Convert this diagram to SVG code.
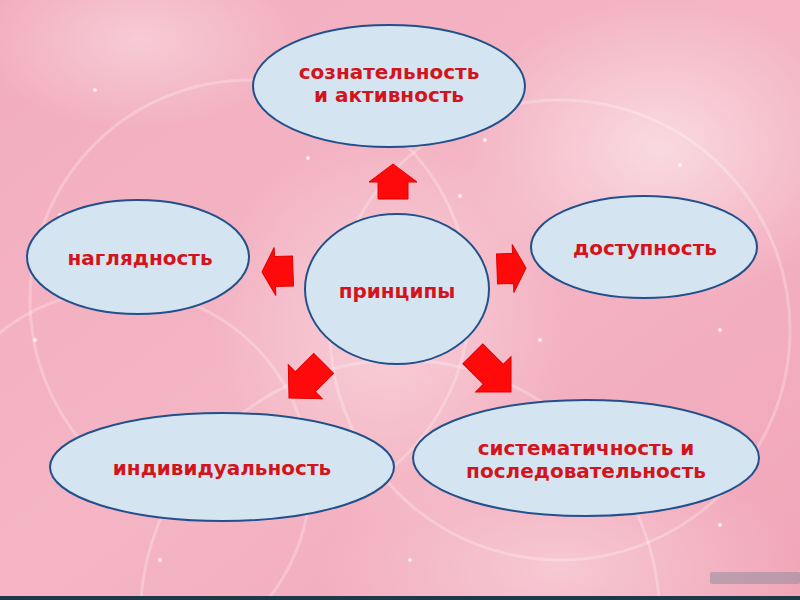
<svg xmlns="http://www.w3.org/2000/svg" width="800" height="600" viewBox="0 0 800 600">
<defs>
<linearGradient id="bg" x1="0" y1="0" x2="1" y2="1">
<stop offset="0" stop-color="#f2adbe"/>
<stop offset="0.5" stop-color="#f4b5c4"/>
<stop offset="1" stop-color="#f1a6b8"/>
</linearGradient>
<radialGradient id="glow1" cx="0.5" cy="0.5" r="0.5">
<stop offset="0" stop-color="#ffffff" stop-opacity="0.5"/>
<stop offset="1" stop-color="#ffffff" stop-opacity="0"/>
</radialGradient>
<radialGradient id="glow2" cx="0.5" cy="0.5" r="0.5">
<stop offset="0" stop-color="#ffffff" stop-opacity="0.35"/>
<stop offset="1" stop-color="#ffffff" stop-opacity="0"/>
</radialGradient>
<style>
.node ellipse{fill:#d4e4f1;stroke:#22508a;stroke-width:2}
.node text{font-family:"DejaVu Sans","Liberation Sans",sans-serif;font-weight:bold;font-size:20px;fill:#d4141c;text-anchor:middle}
.arrow{fill:#ff0a0a;stroke:#e00000;stroke-width:1}
.arc{fill:none;stroke:#ffffff;stroke-opacity:0.25;stroke-width:3}
.dot{fill:#ffffff;opacity:0.7}
</style>
</defs>
<g id="background">
<rect width="800" height="600" fill="url(#bg)"/>
<ellipse cx="660" cy="150" rx="200" ry="150" fill="url(#glow1)"/>
<ellipse cx="560" cy="570" rx="240" ry="120" fill="url(#glow2)"/>
<ellipse cx="390" cy="330" rx="180" ry="200" fill="url(#glow2)"/>
<ellipse cx="140" cy="40" rx="160" ry="90" fill="url(#glow2)"/>
<circle class="arc" cx="250" cy="300" r="220"/>
<circle class="arc" cx="560" cy="330" r="230"/>
<circle class="arc" cx="400" cy="620" r="260"/>
<circle class="arc" cx="120" cy="480" r="190"/>
<circle class="dot" cx="60" cy="215" r="2"/>
<circle class="dot" cx="35" cy="340" r="2"/>
<circle class="dot" cx="308" cy="158" r="2"/>
<circle class="dot" cx="485" cy="140" r="2"/>
<circle class="dot" cx="460" cy="196" r="2"/>
<circle class="dot" cx="540" cy="340" r="2"/>
<circle class="dot" cx="562" cy="512" r="2"/>
<circle class="dot" cx="720" cy="525" r="2"/>
<circle class="dot" cx="720" cy="330" r="2"/>
<circle class="dot" cx="680" cy="165" r="2"/>
<circle class="dot" cx="160" cy="560" r="2"/>
<circle class="dot" cx="410" cy="560" r="2"/>
<circle class="dot" cx="95" cy="90" r="2"/>
<rect x="710" y="572" width="90" height="12" rx="2" fill="#8a8a9a" fill-opacity="0.5"/>
<rect x="0" y="596" width="800" height="4" fill="#1e3946"/>
</g>
<g id="connectors">
<path class="arrow" transform="translate(393,164)" d="M0,0 L24,18 L15,18 L15,35 L-15,35 L-15,18 L-24,18 Z"/>
<path class="arrow" transform="translate(262,272) rotate(-92)" d="M0,0 L24,13 L15,13 L15,31 L-15,31 L-15,13 L-24,13 Z"/>
<path class="arrow" transform="translate(526,268) rotate(88)" d="M0,0 L24,13 L15,13 L15,29 L-15,29 L-15,13 L-24,13 Z"/>
<path class="arrow" transform="translate(289,398) rotate(225)" d="M0,0 L24,23 L14,23 L14,49 L-14,49 L-14,23 L-24,23 Z"/>
<path class="arrow" transform="translate(511,392) rotate(135)" d="M0,0 L25,25 L14,25 L14,54 L-14,54 L-14,25 L-25,25 Z"/>
</g>
<g id="node-center" class="node">
<ellipse cx="397" cy="289" rx="92" ry="75"/>
<text x="397" y="298">принципы</text>
</g>
<g id="node-top" class="node">
<ellipse cx="389" cy="86" rx="136" ry="61"/>
<text x="389" y="79">сознательность</text>
<text x="389" y="102">и активность</text>
</g>
<g id="node-left" class="node">
<ellipse cx="138" cy="257" rx="111" ry="57"/>
<text x="140" y="265">наглядность</text>
</g>
<g id="node-right" class="node">
<ellipse cx="644" cy="247" rx="113" ry="51"/>
<text x="645" y="255">доступность</text>
</g>
<g id="node-bottom-left" class="node">
<ellipse cx="222" cy="467" rx="172" ry="54"/>
<text x="222" y="475">индивидуальность</text>
</g>
<g id="node-bottom-right" class="node">
<ellipse cx="586" cy="458" rx="173" ry="58"/>
<text x="586" y="455">систематичность и</text>
<text x="586" y="478">последовательность</text>
</g>
</svg>
